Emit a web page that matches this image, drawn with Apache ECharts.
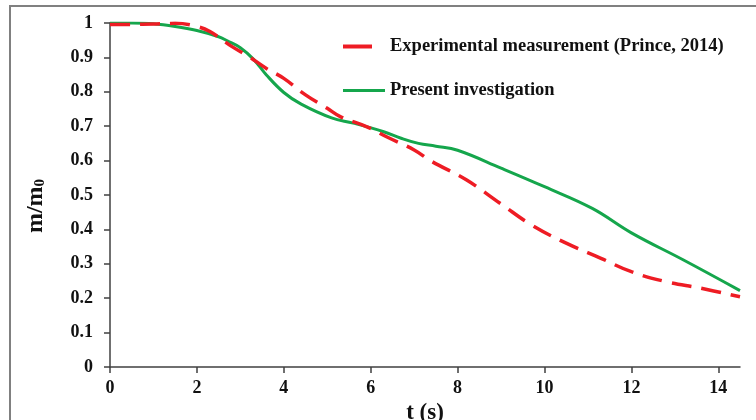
<!DOCTYPE html>
<html>
<head>
<meta charset="utf-8">
<script src="https://cdn.jsdelivr.net/npm/echarts@6/dist/echarts.min.js"></script>
<style>
html,body{margin:0;padding:0;background:#fff;}
#c{width:756px;height:420px;}
</style>
</head>
<body>
<div id="c"></div>
<script>
// Experimental measurement (Prince, 2014)
var expT = [0, 0.5, 1, 1.5, 2, 2.3, 2.8, 3.2, 3.6, 4, 4.5, 5, 5.3, 5.9, 6.4, 7, 7.4, 8.2, 9, 9.7, 10.5, 11.3, 12, 12.8, 13.6, 14.5];
var expV = [0.996, 0.996, 0.997, 0.999, 0.99, 0.975, 0.932, 0.902, 0.868, 0.839, 0.791, 0.752, 0.728, 0.699, 0.667, 0.631, 0.598, 0.544, 0.474, 0.413, 0.36, 0.316, 0.277, 0.248, 0.229, 0.204];
// Present investigation
var preT = [0, 0.5, 1, 1.5, 2, 2.5, 2.7, 3, 3.3, 3.6, 4, 4.4, 5.1, 5.6, 6.3, 6.7, 7.1, 7.5, 8, 9, 10, 11.1, 12, 13.2, 14.5];
var preV = [1.0, 1.0, 0.998, 0.99, 0.978, 0.96, 0.948, 0.928, 0.895, 0.849, 0.798, 0.764, 0.724, 0.709, 0.684, 0.665, 0.650, 0.642, 0.630, 0.578, 0.524, 0.461, 0.39, 0.311, 0.222];
// Axis ticks
var xTicks = [0, 2, 4, 6, 8, 10, 12, 14];
var yTicks = [0, 0.1, 0.2, 0.3, 0.4, 0.5, 0.6, 0.7, 0.8, 0.9, 1];
var seriesNames = ['Experimental measurement (Prince, 2014)', 'Present investigation'];

function pairs(t, v) { return t.map(function (x, i) { return [x, v[i]]; }); }

var FONT = '"Liberation Serif", "Times New Roman", serif';
var RED = '#ee1c24', GREEN = '#15a64c';
var chart = echarts.init(document.getElementById('c'), null, {renderer: 'canvas'});
chart.setOption({
  animation: false,
  backgroundColor: '#ffffff',
  graphic: [{
    type: 'rect', shape: {x: 10, y: 6, width: 800, height: 500},
    style: {fill: 'none', stroke: '#808080', lineWidth: 2}, silent: true, z: -1
  }],
  legend: [{
    data: [seriesNames[0]], left: 343, top: 37, orient: 'vertical', padding: 0,
    itemWidth: 29, itemHeight: 4, icon: 'rect',
    itemStyle: {color: RED},
    textStyle: {fontFamily: FONT, fontWeight: 'bold', fontSize: 18.5, color: '#111', padding: [0, 0, 0, 13]}
  }, {
    data: [seriesNames[1]], left: 343, top: 81, orient: 'vertical', padding: 0,
    itemWidth: 42, itemHeight: 3, icon: 'rect',
    itemStyle: {color: GREEN},
    textStyle: {fontFamily: FONT, fontWeight: 'bold', fontSize: 18.5, color: '#111', padding: [0, 0, 0, 0]}
  }],
  grid: {left: 110, top: 23, width: 630, height: 344, containLabel: false, outerBoundsMode: 'none'},
  xAxis: {
    type: 'value', min: 0, max: 14.5,
    name: 't (s)', nameLocation: 'middle', nameGap: 30,
    nameTextStyle: {fontFamily: FONT, fontWeight: 'bold', fontSize: 23, color: '#111'},
    axisLine: {show: true, lineStyle: {color: '#404040', width: 1.5}},
    axisTick: {show: true, length: 6, customValues: xTicks, lineStyle: {color: '#404040', width: 1.5}},
    axisLabel: {customValues: xTicks, fontFamily: FONT, fontWeight: 'bold', fontSize: 18, color: '#111', margin: 12},
    splitLine: {show: false}
  },
  yAxis: {
    type: 'value', min: 0, max: 1, interval: 0.1,
    name: '{a|m/m}{b|0}', nameLocation: 'middle', nameGap: 62, nameRotate: 90,
    nameTextStyle: {
      fontFamily: FONT, fontWeight: 'bold', fontSize: 24, color: '#111', padding: [0, 22, 0, 0],
      rich: {
        a: {fontFamily: FONT, fontWeight: 'bold', fontSize: 24, color: '#111'},
        b: {fontFamily: FONT, fontWeight: 'bold', fontSize: 15, color: '#111', padding: [10, 0, 0, 0]}
      }
    },
    axisLine: {show: true, lineStyle: {color: '#404040', width: 1.5}},
    axisTick: {show: true, length: 6, lineStyle: {color: '#404040', width: 1.5}},
    axisLabel: {customValues: yTicks, fontFamily: FONT, fontWeight: 'bold', fontSize: 18, color: '#111', margin: 17},
    splitLine: {show: false}
  },
  series: [{
    name: seriesNames[0], type: 'line', data: pairs(expT, expV),
    smooth: 0.4, symbol: 'none',
    lineStyle: {color: RED, width: 3.5, type: [20, 10]},
    itemStyle: {color: RED}, z: 3
  }, {
    name: seriesNames[1], type: 'line', data: pairs(preT, preV),
    smooth: 0.4, symbol: 'none',
    lineStyle: {color: GREEN, width: 3},
    itemStyle: {color: GREEN}, z: 2
  }]
});
</script>
</body>
</html>
